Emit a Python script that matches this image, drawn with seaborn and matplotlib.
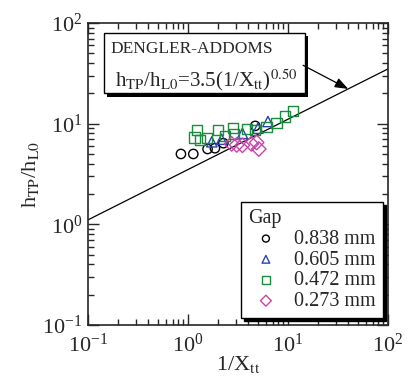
import numpy as np
import pandas as pd
import matplotlib
matplotlib.use("Agg")
import matplotlib.pyplot as plt
import matplotlib.patheffects as pe
from matplotlib.patches import Rectangle
import seaborn as sns

# ---- data ----
gap_labels = ["0.838 mm", "0.605 mm", "0.472 mm", "0.273 mm"]
x_0838 = [0.85, 1.13, 1.57, 1.86, 2.26, 4.7]
y_0838 = [5.0, 5.0, 5.6, 5.7, 6.4, 9.5]
x_0605 = [1.73, 2.17, 3.5, 5.0, 6.3]
y_0605 = [6.6, 7.0, 8.0, 9.0, 10.5]
x_0472 = [1.16, 1.24, 1.32, 1.54, 2.01, 2.34, 2.80, 2.88, 3.87, 4.68, 6.1, 7.7, 9.3, 11.3]
y_0472 = [7.3, 8.7, 6.9, 7.2, 8.7, 7.6, 9.0, 7.9, 8.9, 8.7, 9.2, 10.1, 11.8, 13.4]
x_0273 = [2.73, 3.07, 3.5, 4.3, 4.86, 5.1]
y_0273 = [6.3, 6.15, 6.1, 6.3, 6.5, 5.6]
corr_C = 3.5
corr_n = 0.50

series = [
    (gap_labels[0], x_0838, y_0838, "o", "black", 45),
    (gap_labels[1], x_0605, y_0605, "^", "#2a45b0", 55),
    (gap_labels[2], x_0472, y_0472, "s", "#1a8a3c", 55),
    (gap_labels[3], x_0273, y_0273, "D", "#cc44aa", 55),
]

sns.set_style("ticks")
plt.rcParams["font.family"] = ["Liberation Serif", "DejaVu Serif"]
plt.rcParams["mathtext.fontset"] = "stix"

fig = plt.figure(figsize=(4.19, 3.77), dpi=100)
ax = fig.add_axes([0.21, 0.138, 0.716, 0.801])

# correlation line
x_line = np.logspace(-1, 2, 60)
line_df = pd.DataFrame({"x": x_line, "y": corr_C * x_line ** corr_n})
sns.lineplot(data=line_df, x="x", y="y", color="black", lw=0.9, ax=ax, legend=False)

for lab, xs, ys, mk, col, s in series:
    df = pd.DataFrame({"x": xs, "y": ys})
    sns.scatterplot(data=df, x="x", y="y", marker=mk, s=s, facecolor="none",
                    edgecolor=col, linewidth=1.0, ax=ax, label=lab, zorder=3)

ax.set_xscale("log")
ax.set_yscale("log")
ax.set_xlim(0.1, 100)
ax.set_ylim(0.1, 100)

ax.tick_params(which="both", direction="in", top=True, right=True, labelsize=16, width=1.0)
ax.tick_params(which="major", length=8)
ax.tick_params(which="minor", length=4)
ax.tick_params(axis="x", which="major", pad=6)
ax.tick_params(axis="y", which="major", pad=4)
for sp in ax.spines.values():
    sp.set_linewidth(1.2)

ax.set_xlabel(r"1/X$_\mathrm{tt}$", fontsize=16, labelpad=-2)
ax.set_ylabel(r"h$_\mathrm{TP}$/h$_\mathrm{L0}$", fontsize=16, labelpad=1)

# legend
leg = ax.legend(title="Gap", loc="lower right", fontsize=14.5, title_fontsize=14.5,
                frameon=True, fancybox=False, edgecolor="black", framealpha=1,
                labelspacing=0.08, handletextpad=0.5, handlelength=1.8, borderpad=0.35,
                borderaxespad=0.0, markerscale=0.75, alignment="left",
                shadow={"color": "black", "alpha": 1.0, "ox": 2, "oy": -2},
                bbox_to_anchor=(0.983, 0.023))
leg.get_frame().set_linewidth(1.0)

# annotation box
rect = Rectangle((0.053, 0.768), 0.67, 0.199, transform=ax.transAxes,
                 facecolor="white", edgecolor="black", lw=1.0, zorder=5,
                 path_effects=[pe.SimplePatchShadow(offset=(2.5, -2.5), shadow_rgbFace="black", alpha=1.0),
                               pe.Normal()])
ax.add_patch(rect)
ax.text(0.075, 0.90, "DENGLER-ADDOMS", transform=ax.transAxes, fontsize=12.5,
        va="baseline", ha="left", zorder=6)
ax.text(0.09, 0.79, r"h$_\mathrm{TP}$/h$_\mathrm{L0}$=3.5(1/X$_\mathrm{tt}$)$^{0.50}$",
        transform=ax.transAxes, fontsize=15, va="baseline", ha="left", zorder=6)
ax.annotate("", xy=(40, corr_C * 40 ** corr_n), xycoords="data",
            xytext=(0.717, 0.86), textcoords="axes fraction",
            arrowprops=dict(arrowstyle="-|>,head_length=0.8,head_width=0.3", color="black", lw=0.9,
                            shrinkA=0, shrinkB=0), zorder=6)

fig.savefig("out.png", dpi=100)
